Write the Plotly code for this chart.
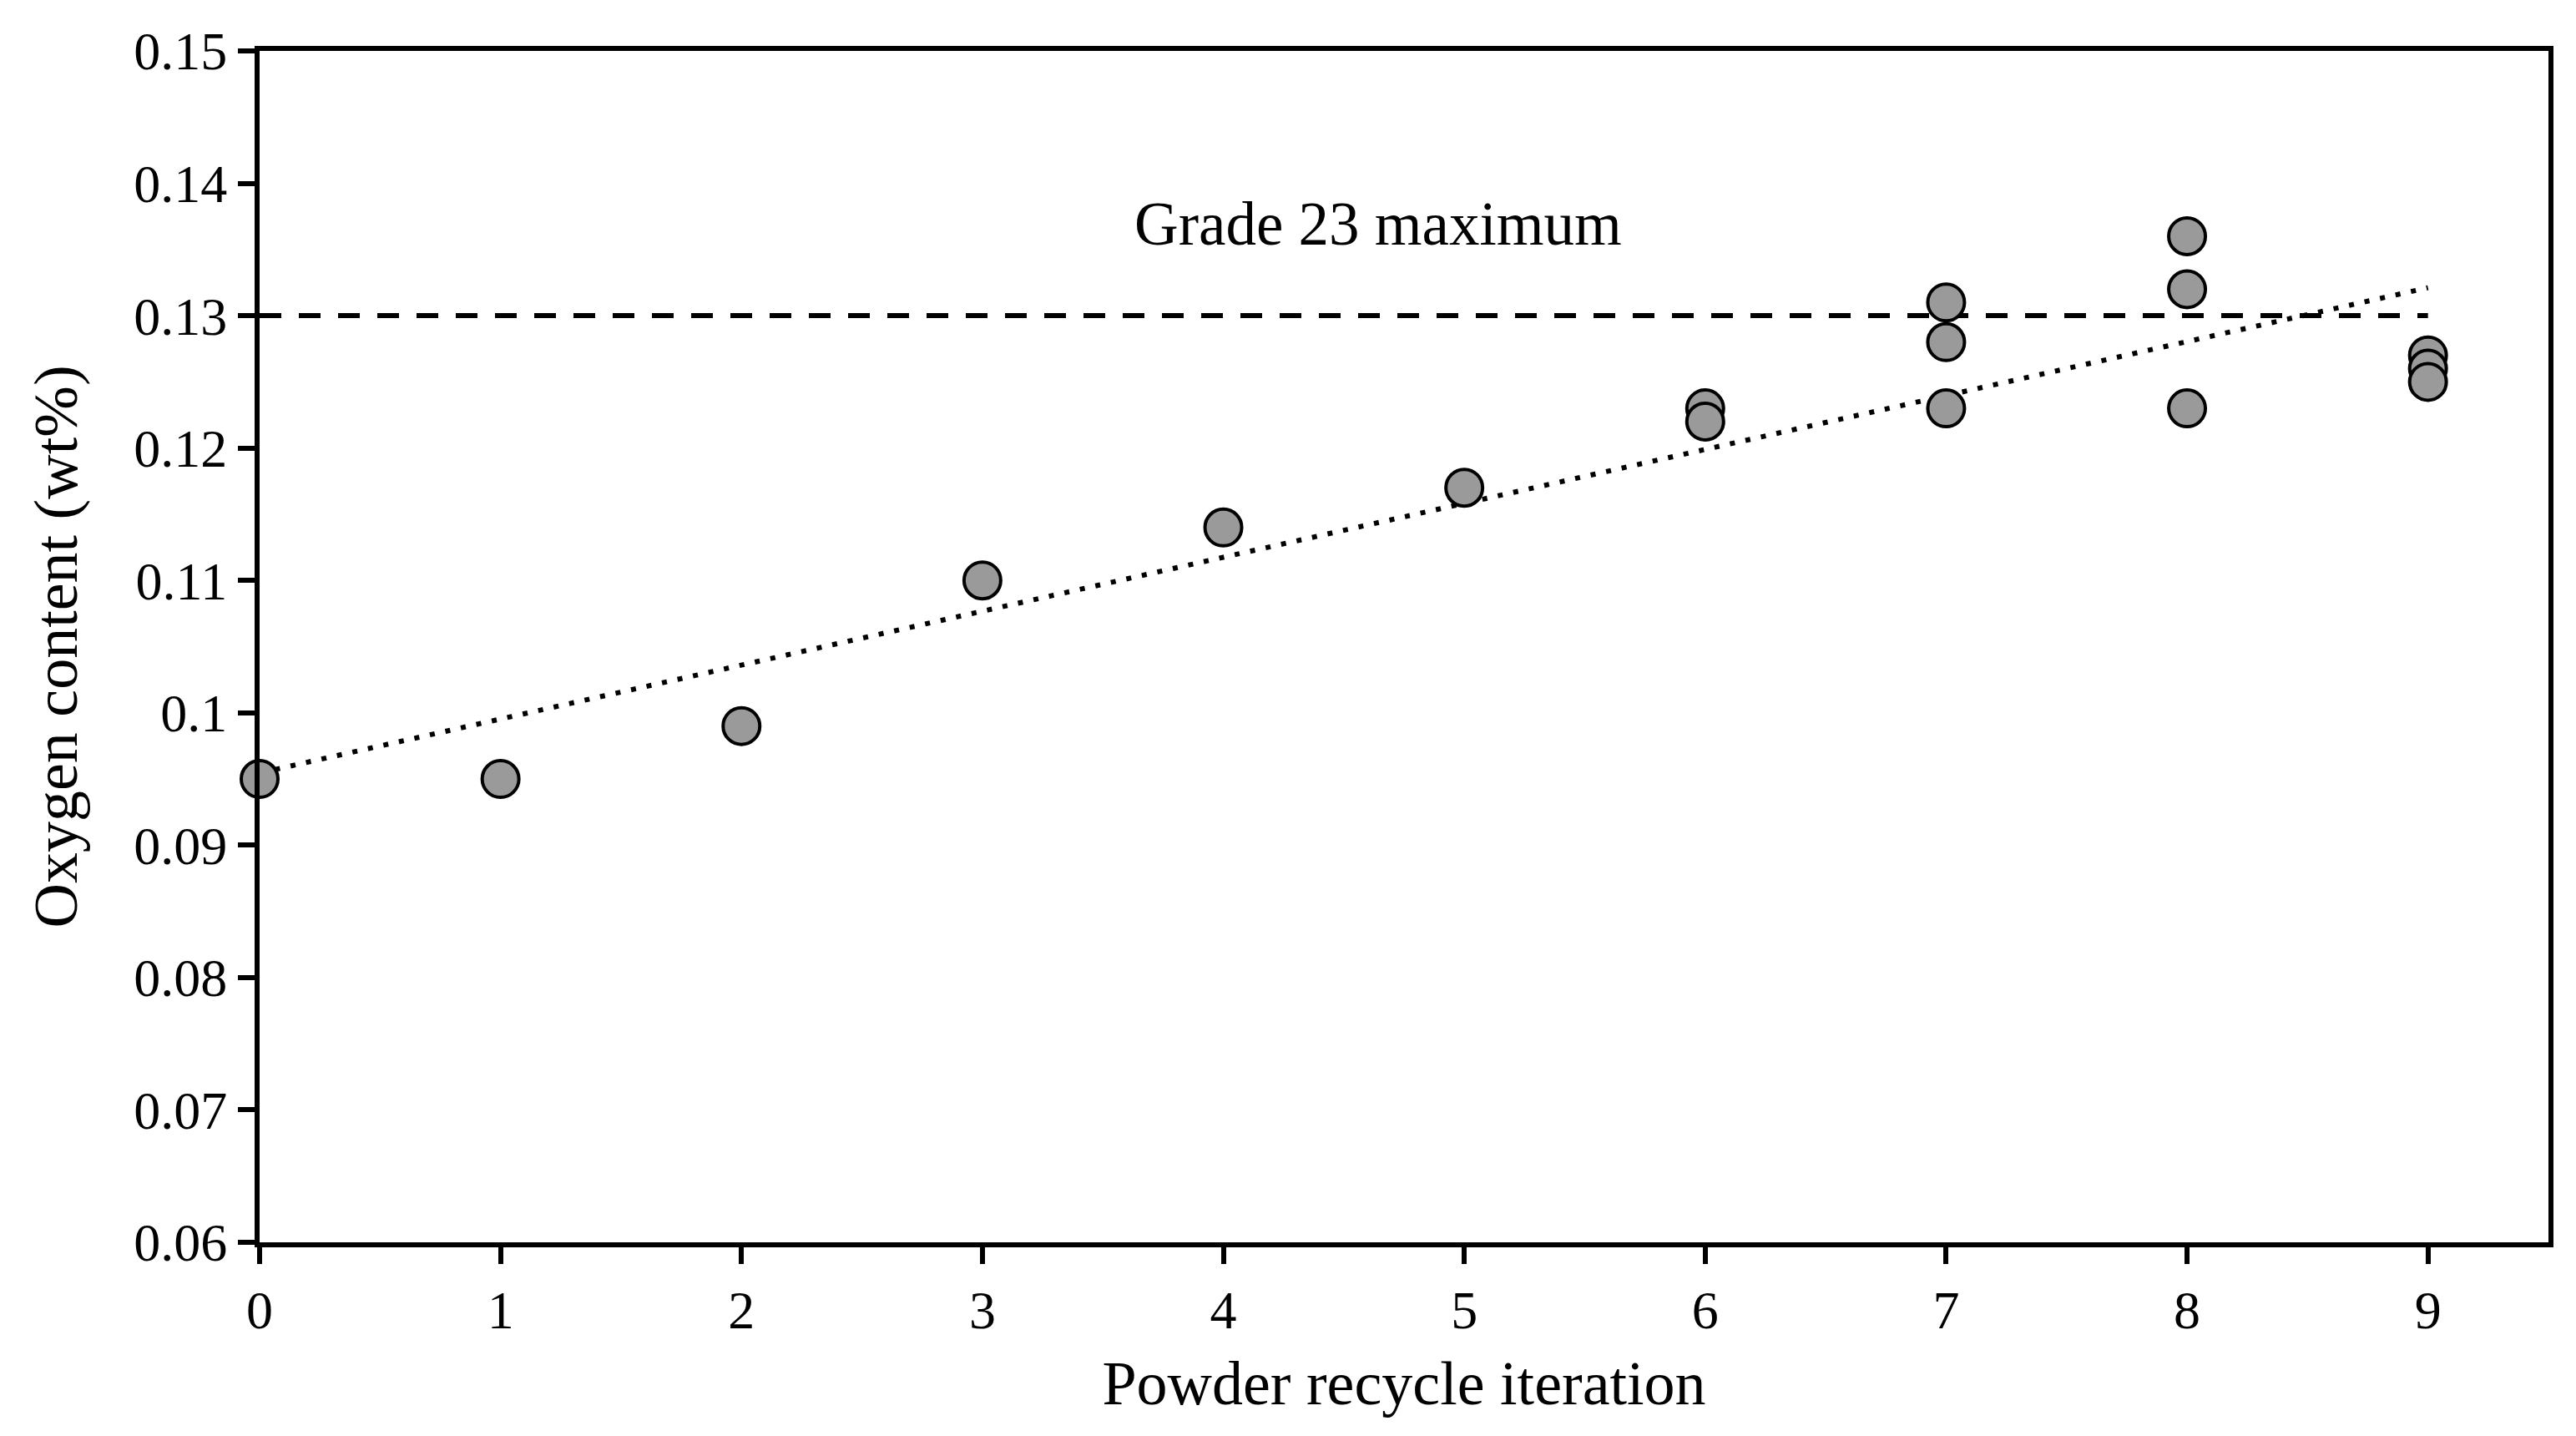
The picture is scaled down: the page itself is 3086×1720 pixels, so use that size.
import numpy as np
import plotly.graph_objects as go

# Data
iteration = [0, 1, 2, 3, 4, 5, 6, 6, 7, 7, 7, 8, 8, 8, 9, 9, 9]
oxygen_wt = [0.095, 0.095, 0.099, 0.110, 0.114, 0.117, 0.123, 0.122,
             0.131, 0.128, 0.123, 0.136, 0.132, 0.123, 0.127, 0.126, 0.125]
grade23_max = 0.13
x_ticks = [0, 1, 2, 3, 4, 5, 6, 7, 8, 9]
y_ticks = [0.06, 0.07, 0.08, 0.09, 0.10, 0.11, 0.12, 0.13, 0.14, 0.15]
y_tick_text = ["0.06", "0.07", "0.08", "0.09", "0.1", "0.11", "0.12", "0.13", "0.14", "0.15"]

# Linear trendline (least squares) from the data
slope, intercept = np.polyfit(iteration, oxygen_wt, 1)
trend_x = [min(iteration), max(iteration)]
trend_y = [intercept + slope * v for v in trend_x]

FONT = "Liberation Serif, Times New Roman, serif"

fig = go.Figure()

# Grade 23 maximum line
fig.add_trace(go.Scatter(
    x=[min(iteration), max(iteration)], y=[grade23_max, grade23_max],
    mode="lines", line=dict(color="black", width=6, dash="26px,21px"),
    showlegend=False, hoverinfo="skip", cliponaxis=False))

# Trendline
fig.add_trace(go.Scatter(
    x=trend_x, y=trend_y, mode="lines",
    line=dict(color="black", width=6, dash="6px,13px"),
    showlegend=False, hoverinfo="skip", cliponaxis=False))

# Data points
fig.add_trace(go.Scatter(
    x=iteration, y=oxygen_wt, mode="markers",
    marker=dict(size=44, color="#9a9a9a", line=dict(color="black", width=4)),
    showlegend=False, cliponaxis=False))

fig.add_annotation(x=4.644, y=0.1369, xref="x", yref="y",
                   text="Grade 23 maximum", showarrow=False,
                   font=dict(family=FONT, size=73, color="black"))

axis_common = dict(
    showline=True, linecolor="black", linewidth=6, mirror=True,
    ticks="outside", ticklen=20, tickwidth=6, tickcolor="black",
    showgrid=False, zeroline=False,
    tickfont=dict(family=FONT, size=64, color="black"),
)

fig.update_xaxes(range=[0, 9.5], tickvals=x_ticks,
                 title=dict(text="Powder recycle iteration",
                            font=dict(family=FONT, size=74, color="black"),
                            standoff=28),
                 **axis_common)
fig.update_yaxes(range=[0.06, 0.15], tickvals=y_ticks, ticktext=y_tick_text,
                 title=dict(text="Oxygen content (wt%)",
                            font=dict(family=FONT, size=74, color="black"),
                            standoff=45),
                 **axis_common)

fig.update_layout(
    width=3086, height=1720,
    margin=dict(l=303, r=41, t=53, b=240, autoexpand=False),
    paper_bgcolor="white", plot_bgcolor="white",
    font=dict(family=FONT, color="black"),
)

fig.write_html("out.html")
